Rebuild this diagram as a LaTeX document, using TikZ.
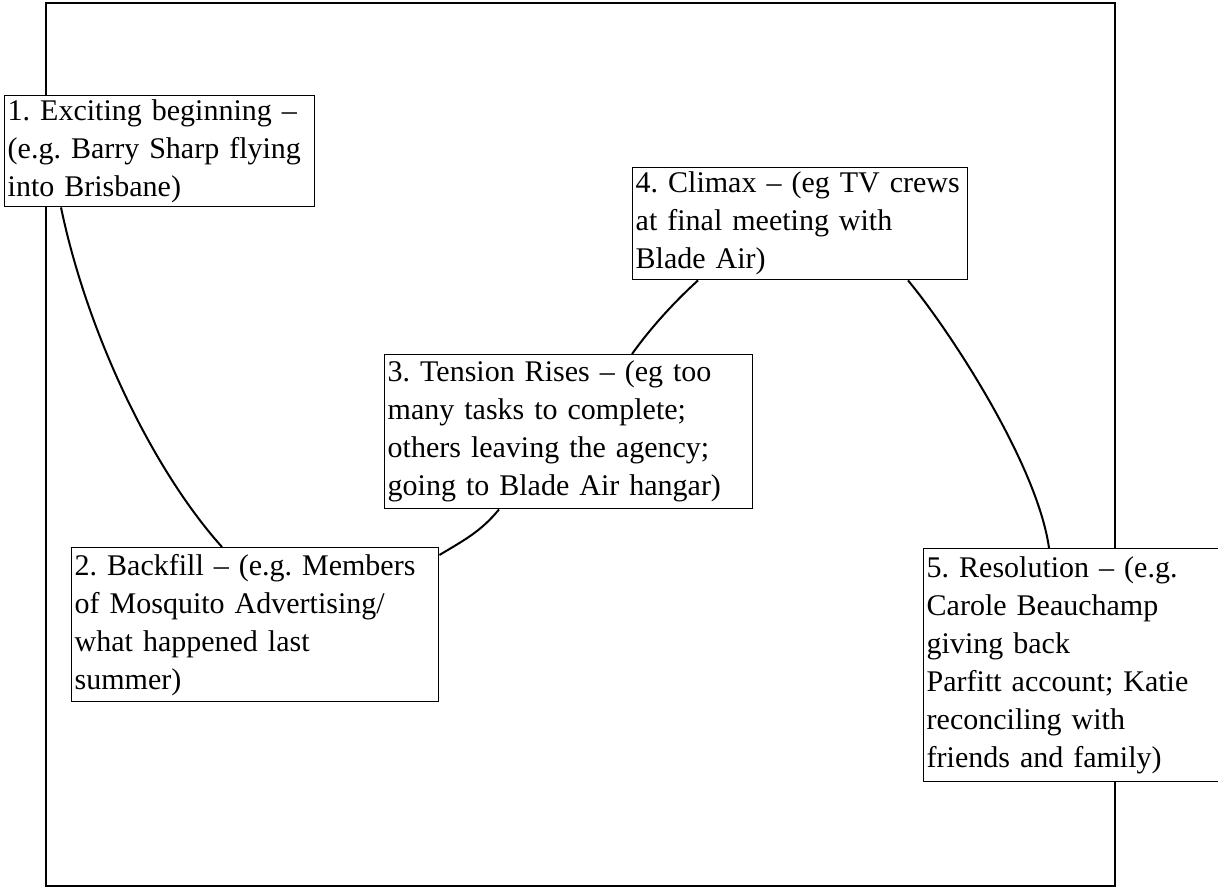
\documentclass[tikz,border=0pt]{standalone}
\usepackage{fontspec}
\setmainfont{Liberation Serif}
\usetikzlibrary{calc}
\frenchspacing
\hyphenpenalty=10000

\begin{document}
\begin{tikzpicture}[x=0.5pt,y=-0.5pt]

      \clip (0,0) rectangle (1218,888);
      \draw[line width=1.25pt] (46,3) rectangle (1115,886);

      % the five stages of the plot
      \begin{scope}[every node/.style={draw, fill=white, anchor=north west, align=left,
          line width=0.7pt, inner xsep=1.5pt, inner ysep=1pt,
          font=\fontsize{15}{19}\selectfont}]
        \node[text width=152pt, minimum height=55.5pt] (1) at (4,95)
          {1. Exciting beginning --\\(e.g. Barry Sharp flying\\into Brisbane)};
        \node[text width=180.5pt, minimum height=77pt] (2) at (71,547)
          {2. Backfill -- (e.g. Members\\of Mosquito Advertising/\\what happened last\\summer)};
        \node[text width=181pt, minimum height=77pt] (3) at (384,354)
          {3. Tension Rises -- (eg too\\many tasks to complete;\\others leaving the agency;\\going to Blade Air hangar)};
        \node[text width=164.5pt, minimum height=56pt] (4) at (632,167)
          {4. Climax -- (eg TV crews\\at final meeting with\\Blade Air)};
        \node[text width=152pt, minimum height=116.5pt] (5) at (923,548)
          {5. Resolution -- (e.g.\\Carole Beauchamp\\giving back\\Parfitt account; Katie\\reconciling with\\friends and family)};
      \end{scope}

      % the story arc between them
      \begin{scope}[line width=1pt]
        \draw ($(1.south west)+(57,0)$) .. controls +(26,125) and +(-70,-78) .. ($(2.north west)+(151,0)$);
        \draw ($(2.north east)+(0,8)$) .. controls +(25,-15) and +(-18,22) .. ($(3.south west)+(115,0)$);
        \draw ($(3.north west)+(248,0)$) .. controls +(20,-28) and +(-22,20) .. ($(4.south west)+(66,0)$);
        \draw ($(4.south west)+(276,0)$) .. controls +(40,48) and +(-12,-85) .. ($(5.north west)+(126,0)$);
      \end{scope}

    \end{tikzpicture}
\end{document}
